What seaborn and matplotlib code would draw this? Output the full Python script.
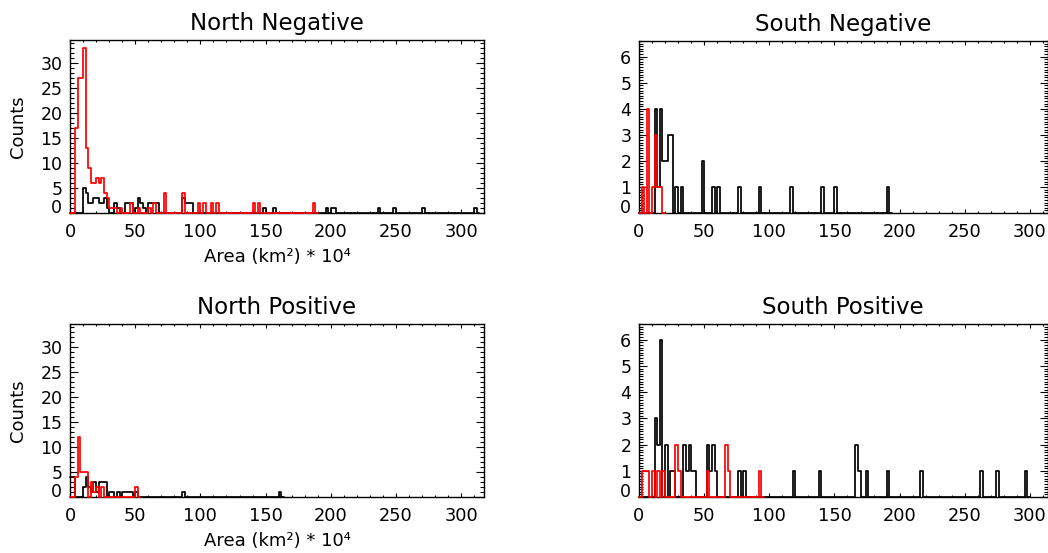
import numpy as np
import pandas as pd
import matplotlib
matplotlib.use("Agg")
import matplotlib.pyplot as plt
import seaborn as sns
from matplotlib.ticker import MultipleLocator, FixedLocator

BIN = 2.0  # bin width (10^4 km^2)

# ---- North Negative ----
nn_black_bins = [10, 12, 14, 16, 18, 20, 22, 24, 26, 28, 34, 36, 42, 44, 46, 50, 52, 54, 56,
                 60, 62, 64, 66, 86, 88, 90, 92, 148, 156, 196, 200, 202, 236, 248, 270, 310]
nn_black_counts = [5, 4, 2, 2, 3, 3, 2, 2, 3, 1, 2, 1, 2, 2, 2, 1, 3, 2, 1,
                   2, 2, 2, 2, 3, 2, 2, 2, 1, 1, 1, 1, 1, 1, 1, 1, 1]
nn_red_bins = [4, 6, 8, 10, 12, 14, 16, 18, 20, 22, 24, 26, 28, 30, 32, 34, 38, 46, 52, 60, 64,
               72, 86, 98, 102, 108, 112, 140, 144, 186]
nn_red_counts = [17, 27, 27, 33, 13, 9, 6, 6, 7, 6, 7, 4, 3, 1, 1, 1, 1, 2, 1, 1, 2,
                 4, 4, 2, 2, 2, 2, 2, 2, 2]

# ---- North Positive ----
np_black_bins = [0, 2, 10, 12, 14, 16, 18, 20, 22, 24, 26, 30, 32, 36, 40, 42, 44, 46, 50, 86, 160]
np_black_counts = [4, 4, 2, 4, 2, 1, 3, 1, 3, 3, 3, 1, 1, 1, 1, 1, 1, 1, 1, 1, 1]
np_red_bins = [4, 6, 8, 10, 12, 16, 18, 20, 24, 50]
np_red_counts = [4, 12, 5, 5, 5, 3, 1, 2, 2, 2]

# ---- South Negative ----
sn_black_bins = [12, 14, 16, 18, 20, 22, 24, 28, 32, 48, 56, 60, 76, 92, 116, 140, 150, 190]
sn_black_counts = [4, 1, 4, 2, 2, 3, 3, 1, 1, 2, 1, 1, 1, 1, 1, 1, 1, 1]
sn_red_bins = [2, 6, 10, 12, 14, 16]
sn_red_counts = [1, 4, 1, 3, 1, 1]

# ---- South Positive ----
sp_black_bins = [12, 14, 16, 20, 24, 26, 34, 36, 38, 40, 42, 52, 54, 56, 58, 76, 80, 118, 138,
                 166, 168, 174, 190, 216, 262, 274, 296]
sp_black_counts = [3, 2, 6, 2, 1, 1, 2, 1, 2, 1, 1, 2, 1, 2, 1, 1, 1, 1, 1,
                   2, 1, 1, 1, 1, 1, 1, 1]
sp_red_bins = [2, 4, 6, 10, 14, 18, 28, 30, 52, 66, 68, 92]
sp_red_counts = [1, 1, 1, 1, 1, 1, 2, 1, 1, 2, 1, 1]

titles = ["North Negative", "South Negative", "North Positive", "South Positive"]
x_ticks = [0, 50, 100, 150, 200, 250, 300]
north_yticks = [0, 5, 10, 15, 20, 25, 30]
south_yticks = [0, 1, 2, 3, 4, 5, 6]
xlabel_text = "Area (km\u00b2) * 10\u2074"
ylabel_text = "Counts"

sns.set_theme(style="white")
plt.rcParams["font.family"] = ["DejaVu Sans"]
plt.rcParams["axes.edgecolor"] = "black"
plt.rcParams["axes.labelcolor"] = "black"
plt.rcParams["text.color"] = "black"
plt.rcParams["xtick.color"] = "black"
plt.rcParams["ytick.color"] = "black"

W, H = 1048, 553
fig = plt.figure(figsize=(W / 100, H / 100), dpi=100)
fig.patch.set_facecolor("white")


def add_ax(l, r, t, b):
    return fig.add_axes([l / W, 1 - b / H, (r - l) / W, (b - t) / H])


def draw_hist(ax, starts, counts, color, z):
    df = pd.DataFrame({"area": np.asarray(starts, float) + BIN / 2,
                       "n": np.asarray(counts, float)})
    edges = list(np.arange(0, max(starts) + 2 * BIN + 0.001, BIN))
    sns.histplot(data=df, x="area", weights="n", bins=edges, element="step",
                 fill=False, color=color, linewidth=1.25, ax=ax, zorder=z, clip_on=False)


panels = [
    dict(pos=(70, 484, 40, 213), xmax=317.5, ymax=34.6, yt=north_yticks, yminor=1,
         black=(nn_black_bins, nn_black_counts), red=(nn_red_bins, nn_red_counts),
         title=titles[0], xlabel=True, ylabel=True),
    dict(pos=(639, 1047.5, 41, 213), xmax=313.5, ymax=6.6, yt=south_yticks, yminor=0.1,
         black=(sn_black_bins, sn_black_counts), red=(sn_red_bins, sn_red_counts),
         title=titles[1], xlabel=False, ylabel=False),
    dict(pos=(70, 484, 324, 497), xmax=317.5, ymax=34.6, yt=north_yticks, yminor=1,
         black=(np_black_bins, np_black_counts), red=(np_red_bins, np_red_counts),
         title=titles[2], xlabel=True, ylabel=True),
    dict(pos=(639, 1047.5, 324, 497), xmax=313.5, ymax=6.6, yt=south_yticks, yminor=0.1,
         black=(sp_black_bins, sp_black_counts), red=(sp_red_bins, sp_red_counts),
         title=titles[3], xlabel=False, ylabel=False),
]

for p in panels:
    l, r, t, b = p["pos"]
    ax = add_ax(l, r, t, b)
    ax.set_facecolor("white")
    draw_hist(ax, *p["black"], color="black", z=3)
    draw_hist(ax, *p["red"], color="#ff0000", z=4)
    ax.set_xlim(0, p["xmax"])
    ax.set_ylim(0, p["ymax"])
    ax.xaxis.set_major_locator(FixedLocator(x_ticks))
    ax.xaxis.set_minor_locator(MultipleLocator(10))
    ax.yaxis.set_major_locator(FixedLocator(p["yt"]))
    ax.yaxis.set_minor_locator(MultipleLocator(p["yminor"]))
    ax.set_xticklabels([str(v) for v in x_ticks])
    ax.set_yticklabels([str(v) for v in p["yt"]])
    for s in ax.spines.values():
        s.set_visible(True)
        s.set_linewidth(1.0)
        s.set_color("black")
    ax.tick_params(which="both", direction="in", top=True, right=True, bottom=True, left=True,
                   labeltop=False, labelright=False, width=0.8, colors="black")
    ax.tick_params(axis="x", which="major", length=2.8, pad=7.5, labelsize=12.8)
    ax.tick_params(axis="x", which="minor", length=1.4)
    ax.tick_params(axis="y", which="major", length=6.0, pad=5.5, labelsize=12.5)
    ax.tick_params(axis="y", which="minor", length=3.0)
    ax.grid(False)
    ylabs = ax.get_yticklabels()
    ylabs[0].set_verticalalignment("baseline")
    ax.set_title(p["title"], fontsize=16.5, pad=7, color="black")
    if p["xlabel"]:
        ax.set_xlabel(xlabel_text, fontsize=13, color="black")
        ax.xaxis.set_label_coords(0.5, -44 / (b - t))
        ax.xaxis.label.set_verticalalignment("center")
    else:
        ax.set_xlabel("")
    if p["ylabel"]:
        ax.set_ylabel(ylabel_text, fontsize=13, color="black")
        ax.yaxis.set_label_coords(-(l - 18) / (r - l), 0.5)
        ax.yaxis.label.set_verticalalignment("center")
    else:
        ax.set_ylabel("")

fig.savefig("out.png", dpi=100, facecolor="white")
